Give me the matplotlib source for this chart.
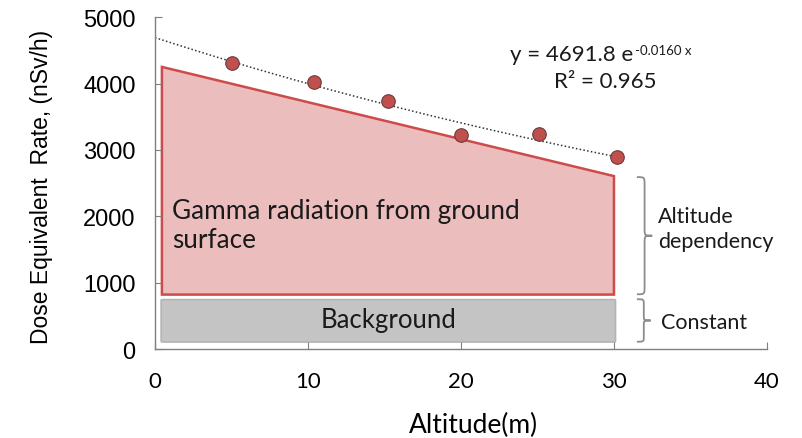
import numpy as np
import matplotlib.pyplot as plt
from matplotlib.path import Path
from matplotlib.patches import PathPatch, Polygon, FancyBboxPatch

# measured dose rate vs altitude
altitude = [5.0, 10.4, 15.2, 20.0, 25.1, 30.2]
dose = [4315, 4025, 3730, 3230, 3235, 2895]

# exponential fit y = a * exp(b x)
fit_a = 4691.8
fit_b = -0.0160
fit_r2 = 0.965

# schematic components
gamma_x = [0.45, 30.0]
gamma_top = [4250, 2605]
gamma_bottom = 820
bg_x = [0.4, 30.1]
bg_range = [105, 745]

ARIAL = 'Liberation Sans'
SANS = 'Lato'


def brace(ax, x, y0, y1, w, color='#8c8c8c'):
    # right-facing curly brace between y0 (bottom) and y1 (top)
    ym = (y0 + y1) / 2.0
    h = (y1 - y0)
    r = min(h * 0.12, 120)
    xm = x + w * 0.5
    verts = [(x, y1),
             (xm, y1), (xm, y1), (xm, y1 - r),
             (xm, ym + r),
             (xm, ym), (xm, ym), (x + w, ym),
             (xm, ym), (xm, ym), (xm, ym - r),
             (xm, y0 + r),
             (xm, y0), (xm, y0), (x, y0)]
    codes = [Path.MOVETO,
             Path.CURVE4, Path.CURVE4, Path.CURVE4,
             Path.LINETO,
             Path.CURVE4, Path.CURVE4, Path.CURVE4,
             Path.CURVE4, Path.CURVE4, Path.CURVE4,
             Path.LINETO,
             Path.CURVE4, Path.CURVE4, Path.CURVE4]
    ax.add_patch(PathPatch(Path(verts, codes), fill=False, edgecolor=color,
                           lw=1.3, clip_on=False))


fig = plt.figure(figsize=(8.02, 4.39), dpi=100, facecolor='w')
ax = fig.add_axes([0.1933, 0.2027, 0.763, 0.756])

# background band
ax.add_patch(FancyBboxPatch((bg_x[0], bg_range[0]), bg_x[1] - bg_x[0],
                            bg_range[1] - bg_range[0],
                            boxstyle='round,pad=0,rounding_size=0.15',
                            mutation_aspect=60,
                            facecolor='#c4c4c4', edgecolor='#b4b4b4', lw=1.2))
ax.text(sum(bg_x) / 2, sum(bg_range) / 2 + 20, 'Background', ha='center', va='center',
        fontsize=18.5, family=SANS, color='#1a1a1a')

# ground gamma component
poly = [(gamma_x[0], gamma_bottom), (gamma_x[0], gamma_top[0]),
        (gamma_x[1], gamma_top[1]), (gamma_x[1], gamma_bottom)]
ax.add_patch(Polygon(poly, closed=True, facecolor='#ecbdbd', edgecolor='#cd4b4b', lw=1.8))
ax.text(1.1, 1865, 'Gamma radiation from ground\nsurface', ha='left', va='center',
        fontsize=18.8, family=SANS, color='#1a1a1a', linespacing=1.22)

# fit line and data
xf = np.linspace(0, 30, 100)
ax.plot(xf, fit_a * np.exp(fit_b * xf), ls=(0, (1, 1.5)), color='#333333', lw=1.1)
ax.scatter(altitude, dose, s=95, facecolor='#c0504d', edgecolor='#6b3a3a', lw=0.8, zorder=5)

# fit equation with a small exponent
eq = ax.text(23.2, 4440, 'y = %.1f e' % fit_a, ha='left', va='center',
             fontsize=16, family=SANS, color='#1a1a1a')
ax.annotate('%.4f x' % fit_b, xy=(1.0, 1.0), xycoords=eq, xytext=(1, 0),
            textcoords='offset points', ha='left', va='top',
            fontsize=9.5, family=SANS, color='#1a1a1a')
ax.text(32.8, 4040, 'R² = %.3f' % fit_r2, ha='right', va='center',
        fontsize=16, family=SANS, color='#1a1a1a')

# annotations on the right
brace(ax, 31.5, 825, 2590, 1.0)
brace(ax, 31.5, 110, 750, 0.9)
ax.text(32.9, 1815, 'Altitude\ndependency', ha='left', va='center', fontsize=15.5,
        family=SANS, color='#1a1a1a', linespacing=1.35)
ax.text(33.1, 410, 'Constant', ha='left', va='center', fontsize=15.5,
        family=SANS, color='#1a1a1a')

ax.set_xlim(0, 40)
ax.set_ylim(0, 5000)
ax.set_xticks([0, 10, 20, 30, 40])
ax.set_yticks([0, 1000, 2000, 3000, 4000, 5000])
for s in ['top', 'right']:
    ax.spines[s].set_visible(False)
for s in ['left', 'bottom']:
    ax.spines[s].set_color('#7f7f7f')
    ax.spines[s].set_linewidth(1.0)
ax.tick_params(direction='in', length=5, color='#7f7f7f')
ax.tick_params(axis='x', pad=16, labelsize=16)
ax.tick_params(axis='y', pad=14, labelsize=17)
for t in ax.get_xticklabels():
    t.set_family(SANS)
for t in ax.get_yticklabels():
    t.set_family(ARIAL)

ax.set_xlabel('Altitude(m)', fontsize=19, family=SANS)
ax.xaxis.set_label_coords(0.52, -0.19)
ax.set_ylabel('Dose Equivalent  Rate, (nSv/h)', fontsize=16.5, family=ARIAL)
ax.yaxis.set_label_coords(-0.166, 0.49)

fig.savefig('out.png', dpi=100)
